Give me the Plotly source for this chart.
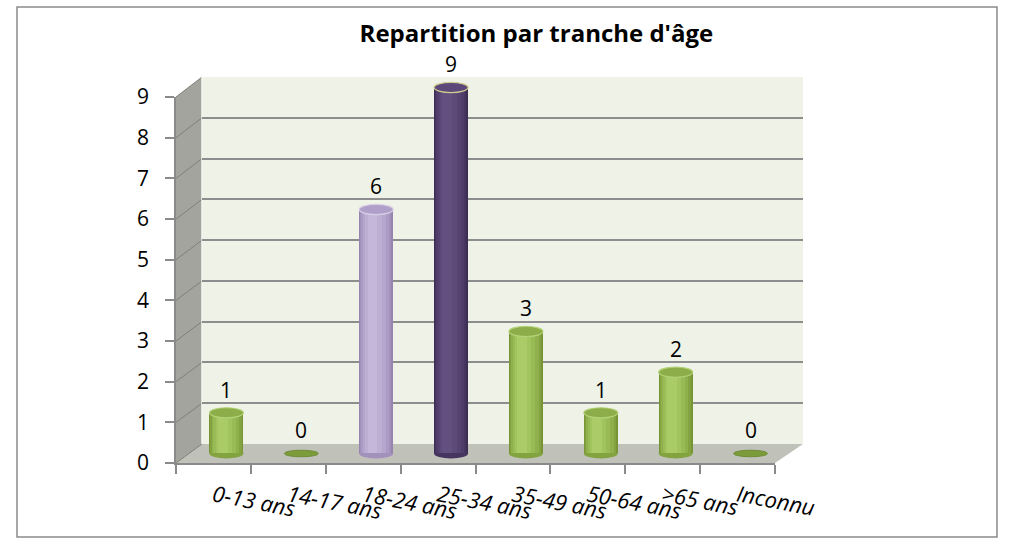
import plotly.graph_objects as go

# ---------------- data ----------------
categories = ["0-13 ans", "14-17 ans", "18-24 ans", "25-34 ans",
              "35-49 ans", "50-64 ans", ">65 ans", "Inconnu"]
values = [1, 0, 6, 9, 3, 1, 2, 0]
bar_hues = ["green", "green", "lavender", "purple", "green", "green", "green", "green"]
y_ticks = list(range(0, 10))
title_text = "Repartition par tranche d'âge"

# ---------------- geometry helpers ----------------
W, H = 1014, 544
def px(x):
    return x / W
def py(y):
    return 1 - y / H

FRONT_L, FRONT_R, FRONT_B, FRONT_T = 176, 775, 463, 97
BACK_L, BACK_R, BACK_B, BACK_T = 202, 803, 444, 77
YMAX = 9
unit = (FRONT_B - FRONT_T) / YMAX
MID_DX, MID_DY = 13, -9.5
MID_B = FRONT_B + MID_DY

palettes = {
    "green": dict(layers=["#779535", "#83a341", "#8fb04c", "#99bb56", "#a2c45f", "#aacb68"],
                  cap="#8dad4a", rim="#b3d176", flat="#7c9c3c", flatrim="#6d8c32"),
    "lavender": dict(layers=["#9684af", "#a291bb", "#ac9cc5", "#b5a6cd", "#bdafd4", "#c4b7da"],
                     cap="#b09fc8", rim="#d8cee6", flat="#a08fba", flatrim="#8e7ca8"),
    "purple": dict(layers=["#3d2d55", "#46355f", "#4f3c69", "#564371", "#5d4a79", "#645080"],
                   cap="#5d4979", rim="#cfcb8e", flat="#4d3a67", flatrim="#3f2f57"),
}
FONT = "Open Sans"

fig = go.Figure()

# back-wall grid subplot (x / y)
fig.add_trace(go.Scatter(x=[0, 1], y=[0, 0], mode="lines", line=dict(width=0),
                         hoverinfo="skip", showlegend=False, xaxis="x", yaxis="y"))

# cylinder bars (x2 / y2): overlaid layers give a rounded shading
widths = [0.454, 0.42, 0.37, 0.30, 0.22, 0.13]
shifts = [0.0, 0.006, 0.014, 0.024, 0.036, 0.05]
for k, (w, s) in enumerate(zip(widths, shifts)):
    fig.add_trace(go.Bar(
        x=categories, y=values,
        width=[w] * len(values), offset=[-w / 2 - s] * len(values),
        marker=dict(color=[palettes[h]["layers"][k] for h in bar_hues], line=dict(width=0)),
        xaxis="x2", yaxis="y2", showlegend=False, hoverinfo="skip",
    ))

# invisible trace for the front category axis (x3 / y3)
fig.add_trace(go.Scatter(x=categories, y=values, mode="markers", marker=dict(opacity=0),
                         hoverinfo="skip", showlegend=False, xaxis="x3", yaxis="y3"))

shapes = []
# outer border
shapes.append(dict(type="rect", xref="paper", yref="paper",
                   x0=px(17), x1=px(997), y0=py(537), y1=py(7),
                   line=dict(color="#8a8a8a", width=1.5), fillcolor="white", layer="below"))
# back wall
shapes.append(dict(type="rect", xref="paper", yref="paper",
                   x0=px(BACK_L), x1=px(BACK_R), y0=py(BACK_B), y1=py(BACK_T),
                   line=dict(width=0), fillcolor="#eef2e7", layer="below"))
# side wall
shapes.append(dict(type="path", xref="paper", yref="paper",
                   path=f"M {px(FRONT_L)} {py(FRONT_B)} L {px(BACK_L)} {py(BACK_B)} "
                        f"L {px(BACK_L)} {py(BACK_T)} L {px(FRONT_L)} {py(FRONT_T)} Z",
                   line=dict(width=0), fillcolor="#a4a49e", layer="below"))
# floor
shapes.append(dict(type="path", xref="paper", yref="paper",
                   path=f"M {px(FRONT_L)} {py(FRONT_B)} L {px(BACK_L)} {py(BACK_B)} "
                        f"L {px(BACK_R)} {py(BACK_B)} L {px(FRONT_R)} {py(FRONT_B)} Z",
                   line=dict(width=0), fillcolor="#c0c1b9", layer="below"))
# side-wall grid diagonals
for v in y_ticks:
    yf = FRONT_B - v * unit
    yb = BACK_B - v * (BACK_B - BACK_T) / YMAX
    shapes.append(dict(type="line", xref="paper", yref="paper",
                       x0=px(FRONT_L), y0=py(yf), x1=px(BACK_L), y1=py(yb),
                       line=dict(color="#808079", width=1), layer="below"))
# edge highlight between side wall and back wall
shapes.append(dict(type="line", xref="paper", yref="paper",
                   x0=px(BACK_L), x1=px(BACK_L), y0=py(BACK_B), y1=py(BACK_T),
                   line=dict(color="#f6f6f2", width=1.5), layer="below"))

# cylinder bottoms and caps
cap_w = widths[0]
cap_h = 0.125
for i, (v, h) in enumerate(zip(values, bar_hues)):
    pal = palettes[h]
    if v > 0:
        shapes.append(dict(type="circle", xref="x2", yref="y2",
                           x0=i - cap_w / 2, x1=i + cap_w / 2, y0=-cap_h, y1=cap_h,
                           fillcolor=pal["layers"][1], line=dict(width=0), layer="between"))
        shapes.append(dict(type="circle", xref="x2", yref="y2",
                           x0=i - cap_w / 2, x1=i + cap_w / 2, y0=v - cap_h, y1=v + cap_h,
                           fillcolor=pal["cap"], line=dict(color=pal["rim"], width=1.2),
                           layer="above"))
    else:
        shapes.append(dict(type="circle", xref="x2", yref="y2",
                           x0=i - cap_w / 2, x1=i + cap_w / 2, y0=-0.08, y1=0.08,
                           fillcolor=pal["flat"], line=dict(color=pal["flatrim"], width=1),
                           layer="above"))

annotations = []
for i, v in enumerate(values):
    annotations.append(dict(x=i, y=v, xref="x2", yref="y2", text=str(v), showarrow=False,
                            yshift=23, yanchor="middle", xanchor="center",
                            font=dict(family=FONT, size=21, color="black")))

y2_lo, y2_hi = -0.5, YMAX + 0.5
fig.update_layout(
    width=W, height=H, autosize=False,
    margin=dict(l=0, r=0, t=0, b=0, pad=0, autoexpand=False),
    paper_bgcolor="white", plot_bgcolor="rgba(0,0,0,0)",
    barmode="overlay", bargap=0,
    showlegend=False,
    title=dict(text=title_text, x=0.529, xanchor="center", y=py(34), yanchor="middle",
               automargin=False,
               font=dict(family=FONT, size=24, color="black", weight="bold")),
    shapes=shapes,
    annotations=annotations,
    xaxis=dict(domain=[px(BACK_L), px(BACK_R)], range=[0, 1], visible=False,
               fixedrange=True, automargin=False),
    yaxis=dict(domain=[py(BACK_B), py(BACK_T)], range=[0, YMAX], dtick=1, tick0=0,
               showgrid=True, gridcolor="#8d8d8d", gridwidth=1.5,
               showticklabels=False, ticks="", zeroline=False, showline=False,
               anchor="x", fixedrange=True, automargin=False),
    xaxis2=dict(domain=[px(FRONT_L + MID_DX), px(FRONT_R + MID_DX)], type="category",
                categoryorder="array", categoryarray=categories,
                range=[-0.5, len(categories) - 0.5], visible=False, anchor="y2",
                fixedrange=True, automargin=False),
    yaxis2=dict(domain=[py(MID_B - y2_lo * unit), py(MID_B - y2_hi * unit)],
                range=[y2_lo, y2_hi], visible=False, anchor="x2", fixedrange=True,
                automargin=False),
    xaxis3=dict(domain=[px(FRONT_L), px(FRONT_R)], type="category",
                categoryorder="array", categoryarray=categories,
                range=[-0.5, len(categories) - 0.5],
                anchor="y3", showline=True, linecolor="#8a8a8a", linewidth=1.5,
                ticks="outside", tickson="boundaries", ticklen=9, tickcolor="#8a8a8a",
                tickwidth=1.5, showgrid=False, zeroline=False,
                tickangle=11, ticklabelstandoff=10, automargin=False,
                tickfont=dict(family=FONT, size=22, color="black", style="italic"),
                fixedrange=True),
    yaxis3=dict(domain=[py(FRONT_B), py(FRONT_T)], range=[0, YMAX], dtick=1, tick0=0,
                anchor="x3", showline=True, linecolor="#8a8a8a", linewidth=1.5,
                ticks="outside", ticklen=9, tickcolor="#8a8a8a", tickwidth=1.5,
                showgrid=False, zeroline=False, ticklabelstandoff=12, automargin=False,
                tickfont=dict(family=FONT, size=21, color="black"),
                fixedrange=True),
)

fig.write_html("out.html", config={"displayModeBar": False},
               post_script="document.body.style.margin='0';document.body.style.overflow='hidden';")
